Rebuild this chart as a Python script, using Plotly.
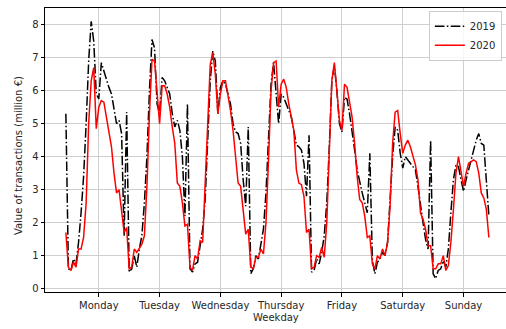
import plotly.graph_objects as go

hours = list(range(-1, 167))

tick_hours = [12, 36, 60, 84, 108, 132, 156]
tick_labels = ["Monday", "Tuesday", "Wednesday", "Thursday", "Friday", "Saturday", "Sunday"]

v2019 = (
    # Monday (incl. Sunday 23h)
    [5.3, 0.6, 0.55, 0.9, 0.75, 1.4, 2.3, 3.4, 5.0, 6.9, 8.1, 7.5, 5.9, 5.75, 6.85, 6.6, 6.3, 6.1, 5.9, 5.4, 5.0, 5.1, 4.7, 1.6, 5.35]
    # Tuesday
    + [0.5, 0.6, 1.0, 0.65, 1.2, 1.6, 2.6, 4.0, 6.0, 7.55, 7.3, 5.6, 5.3, 6.4, 6.3, 6.1, 5.9, 5.3, 4.9, 5.1, 4.8, 4.0, 2.2, 5.6]
    # Wednesday
    + [0.6, 0.5, 0.75, 0.8, 1.3, 1.8, 2.7, 4.3, 6.3, 7.2, 6.9, 5.3, 6.1, 6.3, 6.2, 5.9, 5.6, 5.0, 4.75, 4.7, 4.4, 3.3, 2.5, 4.9]
    # Thursday
    + [0.45, 0.6, 1.0, 0.9, 1.3, 1.8, 2.9, 4.6, 6.2, 6.85, 6.0, 5.0, 5.9, 5.8, 5.6, 5.4, 5.2, 4.8, 4.35, 4.3, 4.2, 3.8, 2.8, 4.65]
    # Friday
    + [0.5, 0.55, 0.9, 0.75, 1.1, 1.6, 2.6, 4.3, 6.3, 6.75, 6.0, 5.0, 4.75, 5.8, 5.75, 5.3, 4.8, 4.2, 3.6, 3.2, 2.9, 2.6, 2.3, 4.1]
    # Saturday
    + [0.85, 0.45, 0.8, 0.9, 1.1, 1.0, 1.4, 2.7, 4.0, 4.9, 4.8, 4.1, 3.65, 4.0, 3.9, 3.8, 3.7, 3.6, 3.1, 2.5, 2.0, 1.5, 1.2, 4.5]
    # Sunday
    + [0.45, 0.3, 0.55, 0.6, 0.85, 0.65, 1.2, 2.3, 3.3, 3.75, 3.7, 3.3, 2.95, 3.3, 3.6, 3.9, 4.2, 4.5, 4.7, 4.4, 4.35, 3.2, 2.2]
)

v2020 = (
    [1.7, 0.65, 0.55, 0.8, 0.65, 1.2, 1.2, 1.55, 2.6, 5.0, 6.3, 6.7, 4.85, 5.5, 5.7, 5.65, 5.2, 4.75, 4.3, 3.5, 2.9, 3.0, 2.4, 1.7, 1.85]
    + [0.6, 0.65, 1.2, 1.1, 1.25, 1.35, 1.6, 3.1, 5.3, 6.95, 6.9, 5.9, 5.0, 6.15, 6.15, 5.9, 5.5, 4.9, 4.4, 3.2, 3.1, 2.6, 1.9, 1.95]
    + [0.65, 0.55, 1.0, 0.9, 1.45, 1.4, 3.0, 5.0, 6.8, 7.15, 6.5, 5.3, 5.9, 6.3, 6.3, 5.9, 5.4, 4.8, 3.9, 3.2, 3.1, 2.4, 1.65, 1.8]
    + [0.65, 0.6, 0.95, 0.95, 1.2, 1.05, 2.0, 3.9, 6.0, 6.85, 6.9, 5.5, 6.2, 6.35, 6.1, 5.6, 5.2, 4.8, 3.6, 3.2, 3.15, 2.8, 1.7, 1.8]
    + [0.6, 0.65, 1.0, 0.95, 1.25, 0.95, 2.0, 4.0, 6.3, 6.85, 6.0, 5.1, 4.8, 6.2, 6.1, 5.7, 5.2, 4.4, 3.4, 2.7, 2.6, 2.2, 1.55, 1.6]
    + [0.75, 0.6, 1.0, 0.9, 1.2, 1.0, 1.4, 2.5, 4.4, 5.35, 5.4, 4.7, 4.1, 4.35, 4.5, 4.3, 4.0, 3.75, 3.3, 2.3, 2.1, 1.8, 1.3, 1.3]
    + [0.6, 0.6, 0.75, 0.75, 1.0, 0.55, 0.7, 1.4, 2.4, 3.5, 4.0, 3.5, 3.1, 3.5, 3.8, 3.85, 3.9, 3.85, 3.5, 2.9, 2.75, 2.4, 1.55]
)

x_title = "Weekday"
y_title = "Value of transactions (million €)"

FONT = "DejaVu Sans"
TXT = "#262626"

fig = go.Figure()
fig.add_trace(go.Scatter(
    x=hours, y=v2019, mode="lines", name="2019",
    line=dict(color="#000000", width=1.5, dash="9.6px,2.4px,1.5px,2.4px"),
))
fig.add_trace(go.Scatter(
    x=hours, y=v2020, mode="lines", name="2020",
    line=dict(color="#ff0000", width=1.5),
))

fig.update_layout(
    width=506, height=329,
    margin=dict(l=45, r=0, t=8, b=37, autoexpand=False),
    paper_bgcolor="white", plot_bgcolor="white",
    font=dict(family=FONT, size=10, color=TXT),
    showlegend=True,
    legend=dict(
        x=0.991, y=0.99, xanchor="right", yanchor="top",
        bgcolor="rgba(255,255,255,0.8)", bordercolor="#cccccc", borderwidth=1,
        font=dict(family=FONT, size=10, color=TXT),
        itemwidth=30, tracegroupgap=0,
    ),
    annotations=[
        dict(text=x_title, xref="paper", yref="paper", x=0.5, y=-0.0915,
             xanchor="center", yanchor="middle", showarrow=False,
             font=dict(family=FONT, size=10, color=TXT)),
        dict(text=y_title, xref="paper", yref="paper", x=-0.0586, y=0.482,
             xanchor="center", yanchor="middle", textangle=-90, showarrow=False,
             font=dict(family=FONT, size=10, color=TXT)),
    ],
)
fig.update_xaxes(
    range=[-9.24, 172.76], automargin=False,
    tickmode="array", tickvals=tick_hours, ticktext=tick_labels,
    showgrid=True, gridcolor="#cfcfcf", gridwidth=1,
    showline=True, linecolor="#000000", linewidth=1, mirror=True,
    ticks="outside", ticklen=3.5, tickcolor="#000000", tickwidth=1,
    zeroline=False,
)
fig.update_yaxes(
    range=[-0.103, 8.507], automargin=False,
    tickmode="array", tickvals=[0, 1, 2, 3, 4, 5, 6, 7, 8],
    showgrid=True, gridcolor="#cfcfcf", gridwidth=1,
    showline=True, linecolor="#000000", linewidth=1, mirror=False,
    ticks="outside", ticklen=3.5, tickcolor="#000000", tickwidth=1,
    zeroline=False,
)

fig.write_html(
    "out.html",
    config={"displayModeBar": False},
    post_script="document.body.style.margin='0';document.body.style.padding='0';",
)
